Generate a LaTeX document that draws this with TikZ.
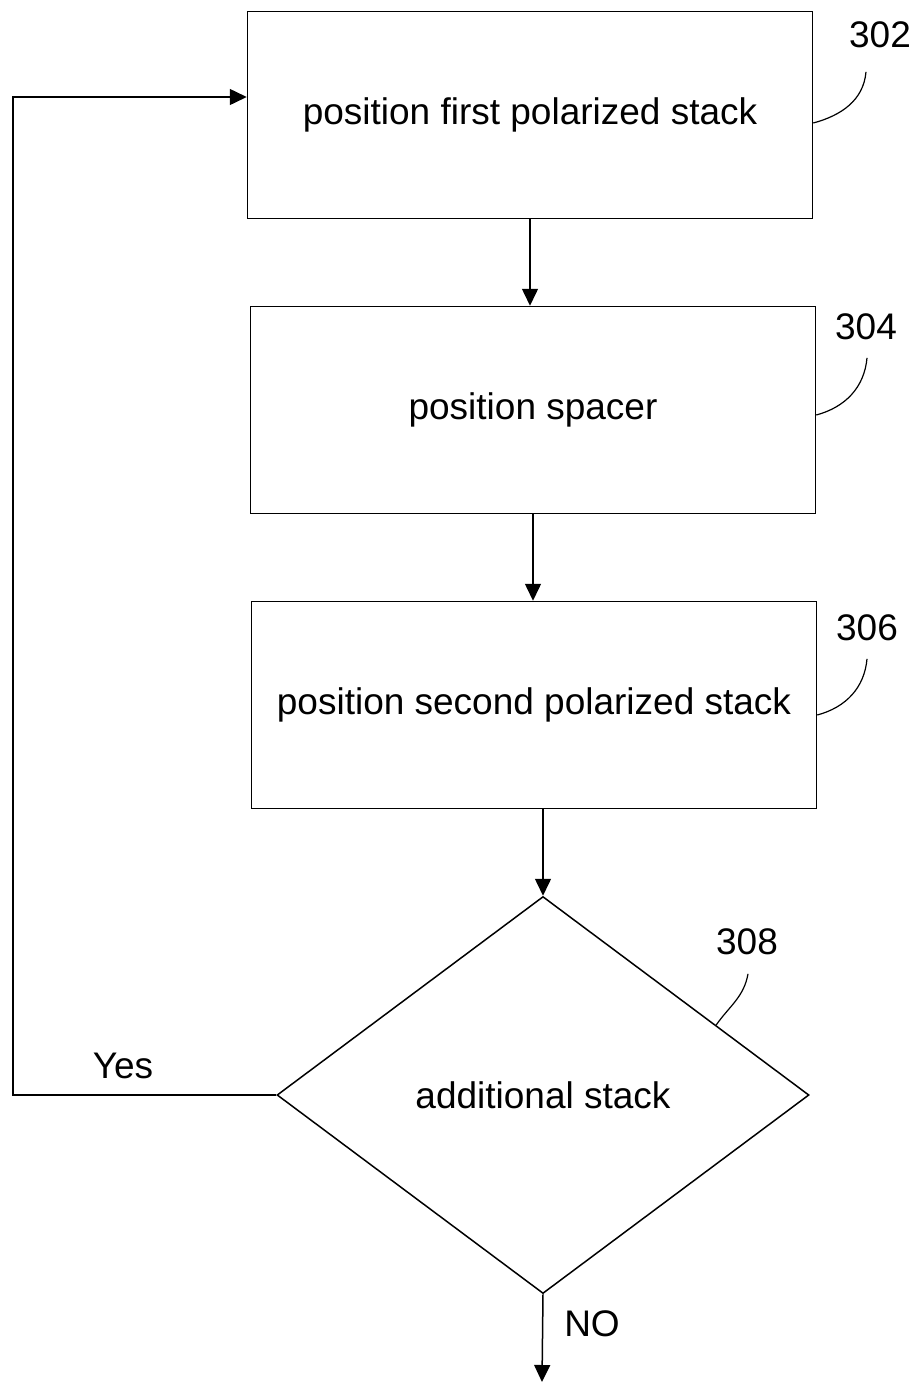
\documentclass[tikz,border=0pt]{standalone}
\usepackage{fontspec}
\setmainfont{Liberation Sans}
\usetikzlibrary{shapes.geometric,arrows.meta}

\begin{document}
\begin{tikzpicture}[x=1pt,y=1pt,line width=1.5pt,
  stepbox/.style = {rectangle,draw,minimum width=565pt,minimum height=207pt,inner sep=0pt,font=\fontsize{37}{40}\selectfont},
  decision/.style = {diamond,draw,minimum width=532pt,minimum height=397pt,inner sep=0pt,font=\fontsize{37}{40}\selectfont},
  refnum/.style = {inner sep=0pt,font=\fontsize{37}{40}\selectfont},
  flow/.style = {-{Triangle[length=17pt,width=16pt]}}]
\useasboundingbox (0,0) rectangle (916,-1382);
    \foreach \n/\x/\y/\t in {302/530/-115/position first polarized stack,304/533/-410/position spacer,306/534/-705/position second polarized stack} \node[stepbox] (b\n) at (\x,\y) {\t};
    \node[decision] (d308) at (543,-1095) {additional stack};
    \foreach \n/\x/\y in {302/880/-35,304/866/-327,306/867/-628,308/747/-942} \node[refnum] (l\n) at (\x,\y) {\n};
    \node[refnum] (yes) at (123,-1066) {Yes};
    \node[refnum] (no) at (592,-1324) {NO};
    % leaders
    \foreach \n/\a/\b/\c in {302/-8/-14/-23,304/-5/1/-17,306/-10/0/-17} \draw[line width=1.2pt] ([yshift=\a pt]b\n.east) to[out=15,in=-95] ([xshift=\b pt,yshift=\c pt]l\n.south);
    \draw[line width=1.2pt] (d308.22) to[out=55,in=-100] ([xshift=1pt,yshift=-18pt]l308.south);
    % flow
    \draw[flow] (b302.south) -- (b302.south |- b304.north);
    \draw[flow] (b304.south) -- (b304.south |- b306.north);
    \draw[flow] (d308.north |- b306.south) -- (d308.north);
    \coordinate (loop) at (13,-97);
    \draw[flow] (d308.west) -| (loop) -- ([yshift=18pt]b302.west);
    \coordinate (exit) at (542,-1382);
    \draw[flow] (d308.south) -- (exit);
\end{tikzpicture}
\end{document}
